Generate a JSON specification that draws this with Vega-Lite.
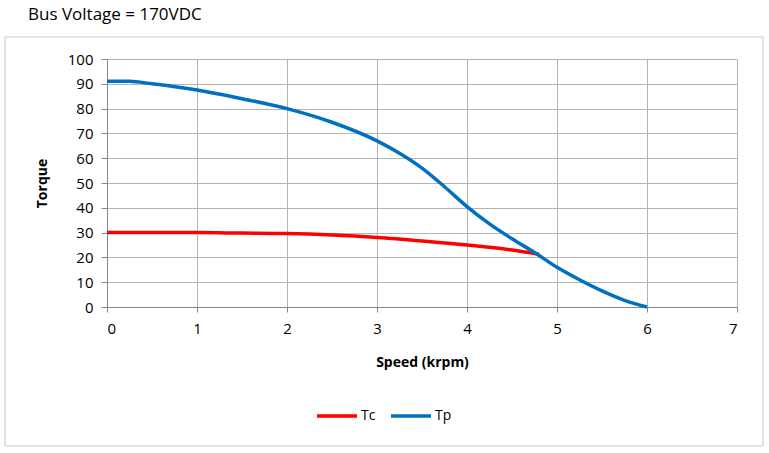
{
  "$schema": "https://vega.github.io/schema/vega-lite/v6.json",
  "autosize": {"type": "none"},
  "width": 630,
  "height": 248,
  "padding": {"left": 107, "top": 59, "right": 32, "bottom": 146},
  "background": "white",
  "title": {
    "text": "Bus Voltage = 170VDC",
    "anchor": "start",
    "frame": "group",
    "dx": -79,
    "offset": 13,
    "font": "Open Sans",
    "fontSize": 17,
    "fontWeight": "normal",
    "color": "#000000"
  },
  "config": {
    "view": {"stroke": null},
    "font": "Open Sans",
    "axis": {
      "labelFont": "Open Sans",
      "labelFontSize": 15,
      "labelColor": "#000000",
      "labelOverlap": false,
      "titleFont": "Open Sans",
      "titleFontSize": 14,
      "titleFontWeight": "bold",
      "titleColor": "#000000",
      "domainColor": "#868686",
      "tickColor": "#868686",
      "gridColor": "#b4b4b4",
      "gridWidth": 1
    }
  },
  "layer": [
    {
      "data": {"values": [{"x0": -1.133, "x1": 7.289, "y0": -56.05, "y1": 108.87}]},
      "mark": {"type": "rect", "fill": "transparent", "stroke": "#c8c8c8", "strokeWidth": 1, "clip": false},
      "encoding": {
        "x": {"field": "x0", "type": "quantitative", "scale": {"domain": [0, 7], "nice": false},
          "axis": {"title": "Speed (krpm)", "values": [0,1,2,3,4,5,6,7], "format": "d", "tickSize": 5, "labelPadding": 9, "titlePadding": 19, "grid": true}},
        "x2": {"field": "x1"},
        "y": {"field": "y0", "type": "quantitative", "scale": {"domain": [0, 100], "nice": false},
          "axis": {"title": "Torque", "values": [0,10,20,30,40,50,60,70,80,90,100], "format": "d", "tickSize": 6, "labelPadding": 8, "titlePadding": 18, "grid": true}},
        "y2": {"field": "y1"}
      }
    },
    {
      "data": {
        "values": [
          {"speed": 0, "torque": 30, "series": "Tc"},
          {"speed": 0.5, "torque": 30, "series": "Tc"},
          {"speed": 1, "torque": 30, "series": "Tc"},
          {"speed": 1.5, "torque": 29.8, "series": "Tc"},
          {"speed": 2, "torque": 29.6, "series": "Tc"},
          {"speed": 2.5, "torque": 29, "series": "Tc"},
          {"speed": 3, "torque": 28, "series": "Tc"},
          {"speed": 3.5, "torque": 26.6, "series": "Tc"},
          {"speed": 4, "torque": 25, "series": "Tc"},
          {"speed": 4.5, "torque": 23, "series": "Tc"},
          {"speed": 4.8, "torque": 21.3, "series": "Tc"},
          {"speed": 0, "torque": 91, "series": "Tp"},
          {"speed": 0.25, "torque": 91, "series": "Tp"},
          {"speed": 0.5, "torque": 90, "series": "Tp"},
          {"speed": 1, "torque": 87.5, "series": "Tp"},
          {"speed": 1.5, "torque": 84, "series": "Tp"},
          {"speed": 2, "torque": 80, "series": "Tp"},
          {"speed": 2.5, "torque": 74.5, "series": "Tp"},
          {"speed": 3, "torque": 67, "series": "Tp"},
          {"speed": 3.25, "torque": 62, "series": "Tp"},
          {"speed": 3.5, "torque": 56, "series": "Tp"},
          {"speed": 3.75, "torque": 48.5, "series": "Tp"},
          {"speed": 4, "torque": 40.5, "series": "Tp"},
          {"speed": 4.25, "torque": 33.5, "series": "Tp"},
          {"speed": 4.5, "torque": 27.5, "series": "Tp"},
          {"speed": 4.75, "torque": 22, "series": "Tp"},
          {"speed": 5, "torque": 16, "series": "Tp"},
          {"speed": 5.25, "torque": 11, "series": "Tp"},
          {"speed": 5.5, "torque": 6.5, "series": "Tp"},
          {"speed": 5.75, "torque": 2.7, "series": "Tp"},
          {"speed": 6, "torque": 0, "series": "Tp"}
        ]
      },
      "mark": {"type": "line", "strokeWidth": 3.5, "interpolate": "monotone"},
      "encoding": {
        "x": {
          "field": "speed", "type": "quantitative",
          "scale": {"domain": [0, 7], "nice": false},
          "axis": {"title": "Speed (krpm)", "values": [0,1,2,3,4,5,6,7], "format": "d", "tickSize": 5, "labelPadding": 9, "titlePadding": 19, "grid": true}
        },
        "y": {
          "field": "torque", "type": "quantitative",
          "scale": {"domain": [0, 100], "nice": false},
          "axis": {"title": "Torque", "values": [0,10,20,30,40,50,60,70,80,90,100], "format": "d", "tickSize": 6, "labelPadding": 8, "titlePadding": 18, "grid": true}
        },
        "color": {
          "field": "series", "type": "nominal",
          "scale": {"domain": ["Tc", "Tp"], "range": ["#ff0000", "#0070c0"]},
          "legend": {
            "title": null,
            "orient": "none",
            "legendX": 208,
            "legendY": 335,
            "direction": "horizontal",
            "symbolType": "stroke",
            "symbolSize": 1600,
            "symbolStrokeWidth": 3.5,
            "labelFontSize": 14,
            "labelFont": "Open Sans",
            "labelColor": "#000000",
            "columnPadding": 8,
            "labelOffset": 2
          }
        }
      }
    }
  ]
}
